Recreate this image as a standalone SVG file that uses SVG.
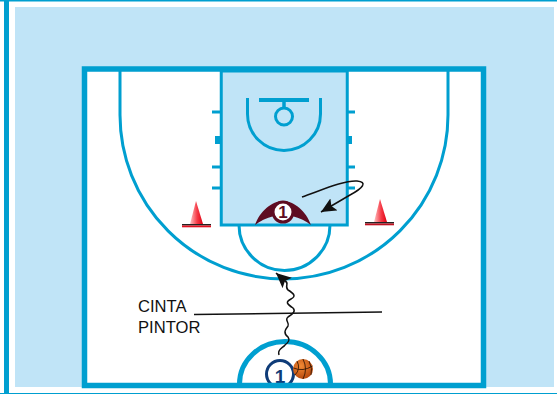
<svg xmlns="http://www.w3.org/2000/svg" width="557" height="394" viewBox="0 0 557 394">
<style>
.line{fill:none;stroke:#009fd0;stroke-width:3}
.heavy{fill:none;stroke:#009fd0}
.ink{fill:none;stroke:#111;stroke-width:1.500}
.label{font-family:"Liberation Sans",Arial,sans-serif;font-size:16.6px;fill:#111}
.num{font-family:"Liberation Sans",Arial,sans-serif;font-weight:bold;text-anchor:middle}
</style>
<defs>
<linearGradient id="cone" x1="0" x2="1" y1="0" y2="0"><stop offset="0" stop-color="#ffc4c4"/><stop offset="0.55" stop-color="#f53a46"/><stop offset="1" stop-color="#e00012"/></linearGradient>
<radialGradient id="ball" cx="0.4" cy="0.35" r="0.7"><stop offset="0" stop-color="#f28a35"/><stop offset="1" stop-color="#b4440a"/></radialGradient>
<marker id="arrow" markerUnits="userSpaceOnUse" markerWidth="16" markerHeight="14" refX="15" refY="7" orient="auto"><path d="M0 0L15 7L0 14L3 7Z" fill="#111"/></marker>
<clipPath id="court-clip"><rect x="0" y="0" width="557" height="384"/></clipPath>
</defs>
<rect width="557" height="394" fill="#fff"/>
<rect x="0" y="0" width="557" height="1.500" fill="#009fd0"/>
<rect x="4" y="0" width="5" height="394" fill="#009fd0"/>
<rect x="0" y="393" width="557" height="1" fill="#009fd0"/>
<rect x="15" y="7" width="539" height="380" fill="#c0e4f7"/>
<g id="court">
<rect x="84.500" y="69" width="399" height="316.500" fill="#fff"/>
<rect x="221.250" y="71" width="126" height="154" fill="#c0e4f7"/>
<rect x="221.250" y="71" width="126" height="154" class="line"/>
<path class="line" d="M120 71V115A164 164 0 0 0 448 115V71"/>
<path class="line" d="M239 225A45.500 45.500 0 0 0 330 225"/>
<path class="line" d="M212 112H221M212 167H221M212 188H221M347 112H355M347 167H355M347 188H355"/>
<path d="M215 136h6v8h-6zM347 136h5v8h-5z" fill="#009fd0"/>
<path class="heavy" stroke-width="4" d="M259 100H309"/>
<path class="heavy" stroke-width="3.500" d="M284 102V108"/>
<circle class="line" cx="284" cy="116.500" r="8.500"/>
<path class="line" d="M247.500 98V114A36.500 36.500 0 0 0 320.500 114V98"/>
<path class="heavy" stroke-width="5" d="M239.500 385V384A45 42 0 0 1 330.500 384V385"/>
</g>
<g id="player-bottom" clip-path="url(#court-clip)">
<circle cx="280" cy="374" r="13.500" fill="#fff" stroke="#0f3c78" stroke-width="3"/>
<text class="num" x="280" y="382.500" font-size="19" fill="#0f3c78">1</text>
</g>
<rect x="82" y="383" width="404" height="5" fill="#009fd0"/>
<rect x="84.500" y="69" width="399" height="316.500" fill="none" stroke="#009fd0" stroke-width="5.500"/>
<g id="ball-node">
<circle cx="303" cy="369" r="10" fill="url(#ball)"/>
<path d="M293.500 368Q303 372 312.500 366M303 359Q308 369 303 379M297 361Q301 369 295 375M309 361Q313 369 311 375" fill="none" stroke="#3a1804" stroke-width="0.900"/>
</g>
<g id="cone-left">
<path d="M196 201L190 224H203Z" fill="url(#cone)"/>
<rect x="182" y="224" width="29" height="1.500" fill="#222"/>
<rect x="182" y="225.500" width="29" height="1.800" fill="#e01020"/>
</g>
<g id="cone-right">
<path d="M380 199L374 222H387Z" fill="url(#cone)"/>
<rect x="365" y="222" width="29" height="1.500" fill="#222"/>
<rect x="365" y="223.500" width="29" height="1.800" fill="#c01020"/>
</g>
<g id="player-top">
<path d="M255 225C260 211 272 201 283 201C294 201 306 211 311 225C306 221 300 218 292 216L274 216C266 218 260 221 255 225Z" fill="#5e0c22"/>
<circle cx="283" cy="212" r="10" fill="#fff" stroke="#5e0c22" stroke-width="3"/>
<text class="num" x="283" y="218" font-size="17" fill="#5e0c22">1</text>
</g>
<g id="connectors">
<path class="ink" d="M302 197C322 190 345 180 357 181C368 182 363 188 350 195L321 212" marker-end="url(#arrow)"/>
<path class="ink" d="M279 355C277 349 283 348 285 345C289 342 290 340 288 337C283 333 285 330 288 326C290 323 284 320 288 317C293 314 296 311 293 308C287 304 285 302 291 299C297 296 293 293 288 290C284 286 290 283 285 281L276 273" marker-end="url(#arrow)"/>
<path class="ink" d="M194 314.500L382 312"/>
</g>
<g id="labels">
<text class="label" x="138" y="312">CINTA</text>
<text class="label" x="138" y="333">PINTOR</text>
</g>
</svg>
